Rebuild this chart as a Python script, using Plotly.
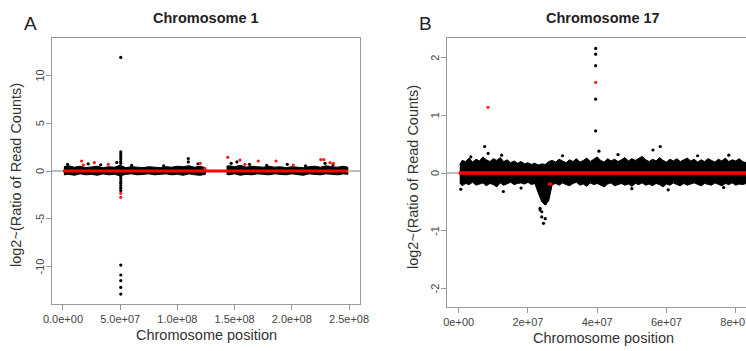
import plotly.graph_objects as go

W, H = 746, 351

# ---------------- Panel A : Chromosome 1 ----------------
a_left_pos = [0.8e6, 5e6, 10e6, 15e6, 20e6, 25e6, 30e6, 35e6, 40e6, 45e6, 50e6, 55e6, 60e6,
              65e6, 70e6, 75e6, 80e6, 85e6, 90e6, 95e6, 100e6, 105e6, 110e6, 115e6, 120e6, 124.5e6]
a_left_up = [0.45, 0.55, 0.4, 0.5, 0.35, 0.45, 0.5, 0.35, 0.45, 0.4, 0.6, 0.35, 0.45,
             0.4, 0.35, 0.45, 0.4, 0.35, 0.45, 0.4, 0.5, 0.45, 0.55, 0.4, 0.5, 0.35]
a_left_lo = [-0.4, -0.35, -0.45, -0.3, -0.4, -0.35, -0.45, -0.3, -0.4, -0.35, -0.5, -0.35, -0.3,
             -0.4, -0.35, -0.3, -0.4, -0.35, -0.3, -0.4, -0.35, -0.45, -0.3, -0.4, -0.45, -0.35]
a_right_pos = [143e6, 145e6, 150e6, 155e6, 160e6, 165e6, 170e6, 175e6, 180e6, 185e6, 190e6, 195e6,
               200e6, 205e6, 210e6, 215e6, 220e6, 225e6, 230e6, 235e6, 240e6, 245e6, 249e6]
a_right_up = [0.5, 0.55, 0.45, 0.6, 0.4, 0.5, 0.45, 0.4, 0.5, 0.4, 0.45, 0.35,
              0.45, 0.4, 0.35, 0.45, 0.5, 0.4, 0.55, 0.45, 0.4, 0.5, 0.4]
a_right_lo = [-0.35, -0.4, -0.3, -0.45, -0.35, -0.4, -0.3, -0.35, -0.4, -0.3, -0.35, -0.4,
              -0.3, -0.35, -0.45, -0.3, -0.35, -0.4, -0.3, -0.35, -0.4, -0.3, -0.35]
a_black_pos = [4e6, 22e6, 33e6, 47e6, 60e6, 88e6, 109.5e6, 109.5e6, 118e6, 147e6, 152e6,
               163e6, 178e6, 196e6, 212e6, 229e6, 236e6,
               50.5e6, 50.5e6, 50.5e6, 50.5e6, 50.5e6, 50.5e6, 50.5e6, 50.5e6, 50.5e6, 50.5e6,
               50.5e6, 50.5e6, 50.5e6, 50.5e6, 50.5e6, 50.5e6, 50.5e6, 50.5e6, 50.5e6]
a_black_val = [0.7, 0.75, 0.65, 0.9, 0.6, 0.55, 1.3, 0.95, 0.75, 0.8, 0.95,
               0.7, 0.6, 0.7, 0.55, 0.8, 0.65,
               2.0, 1.75, 1.5, 1.25, 1.0, 0.8, -0.6, -0.85, -1.1, -1.3, -1.55, -1.8, -2.05,
               11.9, -9.86, -10.9, -11.5, -12.2, -12.9]
a_red_pos = [16.3e6, 17.8e6, 27.4e6, 39.6e6, 120e6, 124e6, 144e6, 154.7e6, 159e6, 170.7e6,
             186.2e6, 201.3e6, 225.3e6, 228e6, 233.4e6, 236.3e6, 50.5e6, 50.5e6]
a_red_val = [1.05, 0.63, 0.87, 0.7, 0.8, 0.28, 1.43, 1.15, 0.7, 1.05,
             1.05, 0.63, 1.2, 1.2, 0.87, 0.8, -2.34, -2.76]
a_seg_pos = [0, 249e6]
a_seg_val = [0, 0]
a_xtick_vals = [0, 5e7, 1e8, 1.5e8, 2e8, 2.5e8]
a_xtick_text = ["0.0e+00", "5.0e+07", "1.0e+08", "1.5e+08", "2.0e+08", "2.5e+08"]
a_ytick_vals = [-10, -5, 0, 5, 10]
a_ytick_text = ["-10", "-5", "0", "5", "10"]

# ---------------- Panel B : Chromosome 17 ----------------
b_pos = [0.3e6] + [i * 1e6 for i in range(1, 84)]
b_up = [0.15, 0.22, 0.2, 0.26, 0.19, 0.24, 0.21, 0.28, 0.23, 0.2,
        0.25, 0.22, 0.27, 0.2, 0.23, 0.18, 0.21, 0.17, 0.2, 0.16,
        0.18, 0.15, 0.17, 0.14, 0.16, 0.15, 0.2, 0.22, 0.19, 0.24,
        0.21, 0.18, 0.23, 0.2, 0.25, 0.19, 0.22, 0.26, 0.2, 0.24,
        0.28, 0.22, 0.19, 0.25, 0.21, 0.24, 0.2, 0.23, 0.27, 0.21,
        0.25, 0.22, 0.26, 0.29, 0.23, 0.2, 0.24, 0.21, 0.27, 0.22,
        0.19, 0.24, 0.21, 0.25, 0.2, 0.23, 0.26, 0.21, 0.24, 0.19,
        0.23, 0.2, 0.25, 0.22, 0.19, 0.24, 0.21, 0.26, 0.2, 0.23,
        0.21, 0.25, 0.2, 0.18]
b_lo = [-0.17, -0.22, -0.18, -0.2, -0.16, -0.21, -0.19, -0.17, -0.22, -0.18,
        -0.2, -0.24, -0.17, -0.21, -0.19, -0.16, -0.2, -0.18, -0.17, -0.19,
        -0.16, -0.2, -0.18, -0.35, -0.5, -0.55, -0.48, -0.2, -0.18, -0.21,
        -0.17, -0.2, -0.22, -0.18, -0.16, -0.21, -0.19, -0.23, -0.17, -0.2,
        -0.18, -0.21, -0.24, -0.19, -0.17, -0.22, -0.2, -0.18, -0.21, -0.19,
        -0.23, -0.18, -0.2, -0.17, -0.21, -0.19, -0.22, -0.18, -0.2, -0.24,
        -0.19, -0.21, -0.17, -0.2, -0.22, -0.18, -0.21, -0.19, -0.17, -0.2,
        -0.22, -0.18, -0.2, -0.21, -0.17, -0.19, -0.22, -0.18, -0.2, -0.17,
        -0.21, -0.19, -0.2, -0.18]
b_black_pos = [7.5e6, 8.5e6, 12.4e6, 3.5e6, 0.6e6, 12.9e6, 23.5e6, 24e6, 25e6, 23.5e6, 24e6,
               24.5e6, 25e6, 40.5e6, 56.1e6, 58.2e6, 78e6, 60.5e6, 76.5e6, 18e6, 30e6,
               46e6, 69e6, 50e6, 39.55e6, 39.55e6, 39.55e6, 39.55e6, 39.55e6]
b_black_val = [0.46, 0.34, 0.31, 0.28, -0.28, -0.32, -0.61, -0.67, -0.53, -0.64, -0.76,
               -0.87, -0.79, 0.38, 0.4, 0.46, 0.31, -0.29, -0.25, -0.26, 0.3,
               0.32, 0.3, -0.27, 2.16, 2.06, 1.86, 1.28, 0.73]
b_red_pos = [8.46e6, 39.55e6]
b_red_val = [1.14, 1.57]
b_seg_pos = [0, 83.3e6]
b_seg_val = [0, 0]
b_dip_pos = [25.8e6, 27e6]
b_dip_val = [-0.19, -0.19]
b_xtick_vals = [0, 2e7, 4e7, 6e7, 8e7]
b_xtick_text = ["0e+00", "2e+07", "4e+07", "6e+07", "8e+07"]
b_ytick_vals = [-2, -1, 0, 1, 2]
b_ytick_text = ["-2", "-1", "0", "1", "2"]


def px(x):
    return x / W


def py(y):
    return 1 - y / H


fig = go.Figure()


def add_panel(xa, ya, hline_range, bands, black, red, segs):
    for pos, up, lo in bands:
        fig.add_trace(go.Scatter(x=list(pos) + list(pos)[::-1], y=list(up) + list(lo)[::-1],
                                 fill="toself", fillcolor="black", mode="lines",
                                 line=dict(color="black", width=1.0),
                                 xaxis=xa, yaxis=ya, hoverinfo="skip"))
    fig.add_trace(go.Scatter(x=hline_range, y=[0, 0], mode="lines",
                             line=dict(color="#bdbdbd", width=2), xaxis=xa, yaxis=ya))
    fig.add_trace(go.Scatter(x=black[0], y=black[1], mode="markers",
                             marker=dict(color="black", size=3.2), xaxis=xa, yaxis=ya))
    for sx, sy, w in segs:
        fig.add_trace(go.Scatter(x=sx, y=sy, mode="lines",
                                 line=dict(color="#ff0000", width=w), xaxis=xa, yaxis=ya))
    fig.add_trace(go.Scatter(x=red[0], y=red[1], mode="markers",
                             marker=dict(color="#ff1a1a", size=3.2), xaxis=xa, yaxis=ya))


add_panel("x", "y", [-9.6e6, 259.6e6],
          [(a_left_pos, a_left_up, a_left_lo), (a_right_pos, a_right_up, a_right_lo)],
          (a_black_pos, a_black_val), (a_red_pos, a_red_val),
          [(a_seg_pos, a_seg_val, 3)])
add_panel("x2", "y2", [-3.4e6, 86.6e6],
          [(b_pos, b_up, b_lo)],
          (b_black_pos, b_black_val), (b_red_pos, b_red_val),
          [(b_seg_pos, b_seg_val, 3.5), (b_dip_pos, b_dip_val, 3)])

axcol = "#9a9a9a"
ff = "Liberation Sans, Arial, sans-serif"
tickfont = dict(family=ff, size=11, color="#444444")
common = dict(showgrid=False, zeroline=False, showline=True, linecolor=axcol, linewidth=1.4,
              ticks="outside", ticklen=5, tickcolor=axcol, tickwidth=1, tickfont=tickfont,
              tickmode="array", automargin=False, ticklabeloverflow="allow")

fig.update_layout(
    width=W, height=H, margin=dict(l=0, r=0, t=0, b=0),
    paper_bgcolor="white", plot_bgcolor="white", showlegend=False,
    xaxis=dict(domain=[px(52), px(360)], range=[-9.6e6, 259.6e6], anchor="y", mirror=True,
               tickvals=a_xtick_vals, ticktext=a_xtick_text, **common),
    yaxis=dict(domain=[py(304), py(38)], range=[-13.94, 13.94], anchor="x", mirror=True,
               tickvals=a_ytick_vals, showticklabels=False, **common),
    xaxis2=dict(domain=[px(447), 1.0], range=[-3.38e6, 82.97e6], anchor="y2", mirror=True,
                tickvals=b_xtick_vals, ticktext=b_xtick_text, **common),
    yaxis2=dict(domain=[py(307), py(38)], range=[-2.32, 2.34], anchor="x2", mirror=False,
                tickvals=b_ytick_vals, showticklabels=False, **common),
)

# rotated y tick labels (R style, reading bottom to top)
for yref, xpix, vals, texts in [("y", 40, a_ytick_vals, a_ytick_text),
                                ("y2", 435, b_ytick_vals, b_ytick_text)]:
    for v, t in zip(vals, texts):
        fig.add_annotation(text=t, x=px(xpix), y=v, xref="paper", yref=yref, showarrow=False,
                           textangle=-90, xanchor="center", yanchor="middle",
                           font=tickfont)

anns = [
    ("A", 30, 24, 19, 0, "#222222"),
    ("B", 425, 24, 19, 0, "#222222"),
    ("<b>Chromosome 1</b>", 206, 18, 14.5, 0, "#222222"),
    ("<b>Chromosome 17</b>", 603, 18, 14.5, 0, "#222222"),
    ("Chromosome position", 206, 335, 14.5, 0, "#333333"),
    ("Chromosome position", 603, 338, 14.5, 0, "#333333"),
    ("log2~(Ratio of Read Counts)", 16, 175, 14.5, -90, "#333333"),
    ("log2~(Ratio of Read Counts)", 413, 177, 14.5, -90, "#333333"),
]
for text, x, y, size, ang, col in anns:
    fig.add_annotation(text=text, x=px(x), y=py(y), xref="paper", yref="paper",
                       showarrow=False, textangle=ang, xanchor="center", yanchor="middle",
                       font=dict(family=ff, size=size, color=col))

fig.write_html("out.html", config={"displayModeBar": False},
               post_script="document.body.style.margin='0';document.body.style.overflow='hidden';")
